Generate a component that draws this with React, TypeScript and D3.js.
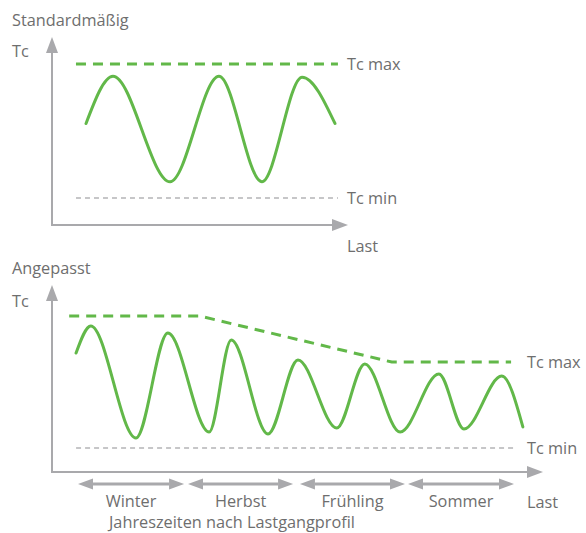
import React from 'react';
import * as d3 from 'd3';

const W = 586;
const H = 533;

// Load axis runs 0..100 (origin to arrow tip), Tc axis 0..100 (origin to arrow tip)

// "Standardmäßig": Tc curve passing through its turning points
const standardLoad = [11.5, 20.6, 39.9, 56.4, 70.9, 84.5, 95.6];
const standardTc = [54.0, 79.1, 23.0, 79.1, 23.0, 78.6, 54.0];
const standardMaxLoad = [8.1, 96.6];
const standardMaxTc = [85.6, 85.6];
const standardMinLoad = [8.1, 96.6];
const standardMinTc = [14.4, 14.4];

// "Angepasst": Tc curve and a Tc max limit that follows the seasons
const adaptedLoad = [4.9, 7.9, 17.1, 23.6, 32.0, 36.5, 44.0, 50.1, 58.0, 63.7, 70.9, 78.8, 83.9, 91.6, 95.9];
const adaptedTc = [63.6, 78.1, 18.2, 74.3, 21.4, 70.6, 20.3, 59.9, 23.5, 57.8, 21.4, 52.4, 23.0, 51.3, 24.1];
const adaptedMaxLoad = [3.5, 30.1, 69.2, 93.5];
const adaptedMaxTc = [83.4, 83.4, 58.8, 58.8];
const adaptedMinLoad = [4.9, 94.3];
const adaptedMinTc = [12.8, 12.8];

const seasons = ['Winter', 'Herbst', 'Frühling', 'Sommer'];
const seasonStart = [5.3, 27.7, 50.5, 72.5];
const seasonEnd = [26.9, 49.1, 71.9, 94.1];

const GREEN = '#62b849';
const AXIS = '#a9a9ac';
const MIN_GRAY = '#b4b4b6';
const TEXT = '#6e6e6e';
const FONT = '"Open Sans", "Noto Sans", sans-serif';
const FS = 16.3;

const zip = (xs: number[], ys: number[]) => xs.map((x, i) => [x, ys[i]] as [number, number]);

type PanelProps = {
  x0: number; x1: number; y0: number; y1: number;
  title: string; titleY: number; tcY: number;
  curve: [number, number][];
  maxLine: [number, number][];
  minLine: [number, number][];
  labelX: number; lastY: number;
  children?: (x: d3.ScaleLinear<number, number>, y: d3.ScaleLinear<number, number>) => React.ReactNode;
};

function Panel(p: PanelProps) {
  const x = d3.scaleLinear().domain([0, 100]).range([p.x0, p.x1]);
  const y = d3.scaleLinear().domain([0, 100]).range([p.y0, p.y1]);
  const smooth = d3.line<[number, number]>().x(d => x(d[0])).y(d => y(d[1])).curve(d3.curveMonotoneX);
  const straight = d3.line<[number, number]>().x(d => x(d[0])).y(d => y(d[1]));
  const head = 16;
  const half = 6;
  const maxEnd = p.maxLine[p.maxLine.length - 1];
  const minEnd = p.minLine[p.minLine.length - 1];
  return (
    <g>
      <text x={12} y={p.titleY} fontSize={FS} fill={TEXT} fontFamily={FONT}>{p.title}</text>
      <text x={12} y={p.tcY} fontSize={FS} fill={TEXT} fontFamily={FONT}>Tc</text>
      {/* axes */}
      <path d={`M${x(0)},${y(0)}V${y(100) + head}`} stroke={AXIS} strokeWidth={2} fill="none" />
      <path d={`M${x(0) - half},${y(100) + head}L${x(0)},${y(100)}L${x(0) + half},${y(100) + head}Z`} fill={AXIS} />
      <path d={`M${x(0) - 1},${y(0)}H${x(100) - head}`} stroke={AXIS} strokeWidth={2} fill="none" />
      <path d={`M${x(100) - head},${y(0) - half}L${x(100)},${y(0)}L${x(100) - head},${y(0) + half}Z`} fill={AXIS} />
      {/* limits */}
      <path d={straight(p.maxLine) ?? ''} stroke={GREEN} strokeWidth={3} strokeDasharray="10,7" fill="none" />
      <path d={straight(p.minLine) ?? ''} stroke={MIN_GRAY} strokeWidth={1.4} strokeDasharray="5,4" fill="none" />
      {/* Tc curve */}
      <path d={smooth(p.curve) ?? ''} stroke={GREEN} strokeWidth={3} fill="none" strokeLinecap="round" />
      <text x={p.labelX} y={y(maxEnd[1])} dy="0.35em" fontSize={FS} fill={TEXT} fontFamily={FONT}>Tc max</text>
      <text x={p.labelX} y={y(minEnd[1])} dy="0.35em" fontSize={FS} fill={TEXT} fontFamily={FONT}>Tc min</text>
      <text x={p.labelX} y={p.lastY} fontSize={FS} fill={TEXT} fontFamily={FONT}>Last</text>
      {p.children && p.children(x, y)}
    </g>
  );
}

export default function App() {
  return (
    <svg width={W} height={H} style={{ position: 'absolute', left: 0, top: 0, background: '#fff' }}>
      <Panel
        x0={52} x1={348} y0={225} y1={37}
        title="Standardmäßig" titleY={26} tcY={57}
        curve={zip(standardLoad, standardTc)}
        maxLine={zip(standardMaxLoad, standardMaxTc)}
        minLine={zip(standardMinLoad, standardMinTc)}
        labelX={347} lastY={252}
      />
      <Panel
        x0={52} x1={543} y0={472} y1={285}
        title="Angepasst" titleY={274} tcY={307}
        curve={zip(adaptedLoad, adaptedTc)}
        maxLine={zip(adaptedMaxLoad, adaptedMaxTc)}
        minLine={zip(adaptedMinLoad, adaptedMinTc)}
        labelX={527} lastY={508}
      >
        {(x) => {
          const ay = 484;
          const hl = 15;
          const hh = 5.5;
          return (
            <g>
              {seasons.map((s, i) => {
                const a = x(seasonStart[i]);
                const b = x(seasonEnd[i]);
                return (
                  <g key={s}>
                    <path d={`M${a + hl},${ay}H${b - hl}`} stroke={AXIS} strokeWidth={3} fill="none" />
                    <path d={`M${a + hl},${ay - hh}L${a},${ay}L${a + hl},${ay + hh}Z`} fill={AXIS} />
                    <path d={`M${b - hl},${ay - hh}L${b},${ay}L${b - hl},${ay + hh}Z`} fill={AXIS} />
                    <text x={(a + b) / 2} y={507} textAnchor="middle" fontSize={FS} fill={TEXT} fontFamily={FONT}>{s}</text>
                  </g>
                );
              })}
              <text x={109} y={528} fontSize={FS} fill={TEXT} fontFamily={FONT}>Jahreszeiten nach Lastgangprofil</text>
            </g>
          );
        }}
      </Panel>
    </svg>
  );
}
